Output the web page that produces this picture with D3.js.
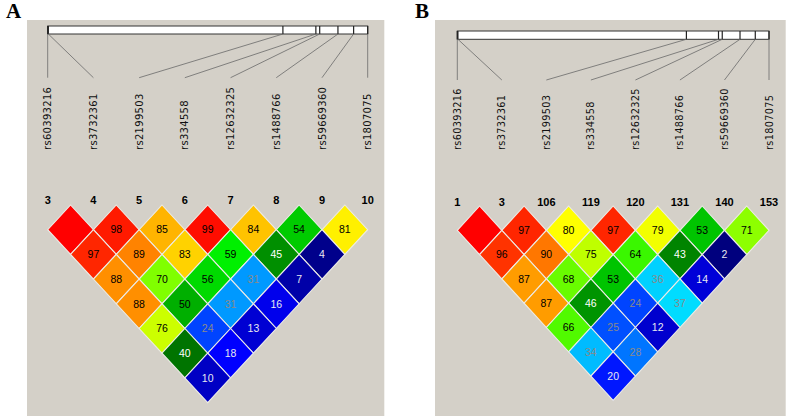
<!DOCTYPE html>
<html>
<head>
<meta charset="utf-8">
<script src="https://cdn.jsdelivr.net/npm/d3@7"></script>
<style>
  body { margin: 0; background: #ffffff; }
  svg { display: block; }
</style>
</head>
<body>
<script>
var snps = ["rs60393216", "rs3732361", "rs2199503", "rs334558", "rs12632325", "rs1488766", "rs59669360", "rs1807075"]; // marker names
var snpPos = [0, 0.2, 73.5, 83.8, 85.0, 90.7, 95.6, 100]; // relative position along the region (%)

var indexA = [3, 4, 5, 6, 7, 8, 9, 10];           // marker numbers, panel A
var indexB = [1, 3, 106, 119, 120, 131, 140, 153]; // marker numbers, panel B

// D' x 100, one row per marker distance (1 = neighbours ... 7 = first vs last)
var ldA = [
  [100, 98, 85, 99, 84, 54, 81],
  [97, 89, 83, 59, 45, 4],
  [88, 70, 56, 31, 7],
  [88, 50, 31, 16],
  [76, 24, 13],
  [40, 18],
  [10]
];
var ldB = [
  [100, 97, 80, 97, 79, 53, 71],
  [96, 90, 75, 64, 43, 2],
  [87, 68, 53, 36, 14],
  [87, 46, 24, 37],
  [66, 25, 12],
  [34, 28],
  [20]
];

var width = 787;
var height = 416;

var svg = d3.select("body").append("svg").attr("width", width).attr("height", height);

// colour of a cell from its value (rainbow, red = high)
var color = d3.scaleLinear()
  .domain([0, 4, 10, 14, 18, 24, 31, 37, 37.5, 40, 46, 53, 59, 70, 76, 80, 85, 90, 96, 100])
  .range(["#000070", "#00008b", "#0000c4", "#0000d8", "#0000ff", "#0044ff", "#0099ff", "#00dcff",
          "#006800", "#007400", "#009400", "#00c400", "#00f000", "#80ff00", "#ccff00", "#ffff00",
          "#ffb400", "#ff7700", "#ff3300", "#ff0000"])
  .interpolate(d3.interpolateRgb);

var textColor = d3.scaleThreshold().domain([22, 38, 48]).range(["#e8e8f0", "#8a8a8a", "#ffffff", "#000000"]);

function drawPanel(cfg, index, ld) {
  var g = svg.append("g");

  g.append("rect") // grey background
    .attr("x", cfg.bgX).attr("y", 20)
    .attr("width", cfg.bgW).attr("height", height - 20)
    .attr("fill", "#d4d0c8");

  g.append("text") // panel letter
    .attr("x", cfg.letterX).attr("y", 17.5)
    .attr("font-family", "Liberation Serif, Times New Roman, serif")
    .attr("font-weight", "bold").attr("font-size", "21px")
    .attr("fill", "#000")
    .text(cfg.letter);

  var x = d3.scaleLinear().domain([0, snps.length - 1]).range([cfg.x0, cfg.x1]); // marker column
  var pos = d3.scaleLinear().domain([0, 100]).range([cfg.x0, cfg.x1]);          // position on the bar
  var y = d3.scaleLinear().domain([0, snps.length]).range([cfg.y0, cfg.y0 + snps.length * cfg.hy]); // half steps down

  g.append("rect") // region bar
    .attr("x", pos(0)).attr("y", cfg.barY)
    .attr("width", pos(100) - pos(0)).attr("height", cfg.barH)
    .attr("fill", "#ffffff").attr("stroke", "#333").attr("stroke-width", 1);

  g.selectAll(".tick").data(snpPos).enter().append("line") // markers on the bar
    .attr("x1", function(d) { return pos(d); }).attr("x2", function(d) { return pos(d); })
    .attr("y1", cfg.barY).attr("y2", cfg.barY + cfg.barH)
    .attr("stroke", "#222").attr("stroke-width", 1.2);

  g.selectAll(".link").data(snpPos).enter().append("line") // bar -> name
    .attr("x1", function(d) { return pos(d); })
    .attr("y1", cfg.barY + cfg.barH)
    .attr("x2", function(d, i) { return x(i); })
    .attr("y2", cfg.linkY)
    .attr("stroke", "#6a6a6a").attr("stroke-width", 0.8);

  g.selectAll(".name").data(snps).enter().append("text") // marker names, rotated
    .attr("transform", function(d, i) { return "translate(" + x(i) + ",150) rotate(-90)"; })
    .attr("dy", "0.36em")
    .attr("font-family", "DejaVu Sans, sans-serif")
    .attr("font-size", cfg.nameSize + "px")
    .attr("letter-spacing", "0.3px")
    .attr("fill", "#111")
    .text(function(d) { return d; });

  g.selectAll(".num").data(index).enter().append("text") // marker numbers
    .attr("x", function(d, i) { return x(i); })
    .attr("y", cfg.numY)
    .attr("text-anchor", "middle")
    .attr("font-family", "Liberation Sans, Arial, sans-serif")
    .attr("font-weight", "bold").attr("font-size", "11px")
    .attr("fill", "#000")
    .text(function(d) { return d; });

  var cells = [];
  ld.forEach(function(row, k) {
    row.forEach(function(v, i) { cells.push({ i: i, j: i + k + 1, k: k + 1, v: v }); });
  });

  var cell = g.selectAll(".cell").data(cells).enter().append("g");

  cell.append("path")
    .attr("d", function(d) {
      var c = (d.i + d.j) / 2;
      return "M" + x(c) + "," + y(d.k - 1) +
             "L" + x(c + 0.5) + "," + y(d.k) +
             "L" + x(c) + "," + y(d.k + 1) +
             "L" + x(c - 0.5) + "," + y(d.k) + "Z";
    })
    .attr("fill", function(d) { return color(d.v); })
    .attr("stroke", "#ecebe6").attr("stroke-width", 1.1);

  cell.filter(function(d) { return d.v < 100; }).append("text")
    .attr("x", function(d) { return x((d.i + d.j) / 2); })
    .attr("y", function(d) { return y(d.k); })
    .attr("dy", "0.36em")
    .attr("text-anchor", "middle")
    .attr("font-family", "Liberation Sans, Arial, sans-serif")
    .attr("font-size", "10.5px")
    .attr("fill", function(d) { return textColor(d.v); })
    .text(function(d) { return d.v; });
}

drawPanel({ letter: "A", letterX: 6, bgX: 27, bgW: 357.3, x0: 47.7, x1: 367.7,
            barY: 26, barH: 8, linkY: 77.7, nameSize: 10, numY: 204, y0: 205, hy: 24.7 }, indexA, ldA);

drawPanel({ letter: "B", letterX: 415, bgX: 435, bgW: 350.7, x0: 457.3, x1: 769,
            barY: 31, barH: 8.3, linkY: 80, nameSize: 9.75, numY: 205.5, y0: 206, hy: 24.3 }, indexB, ldB);
</script>
</body>
</html>
